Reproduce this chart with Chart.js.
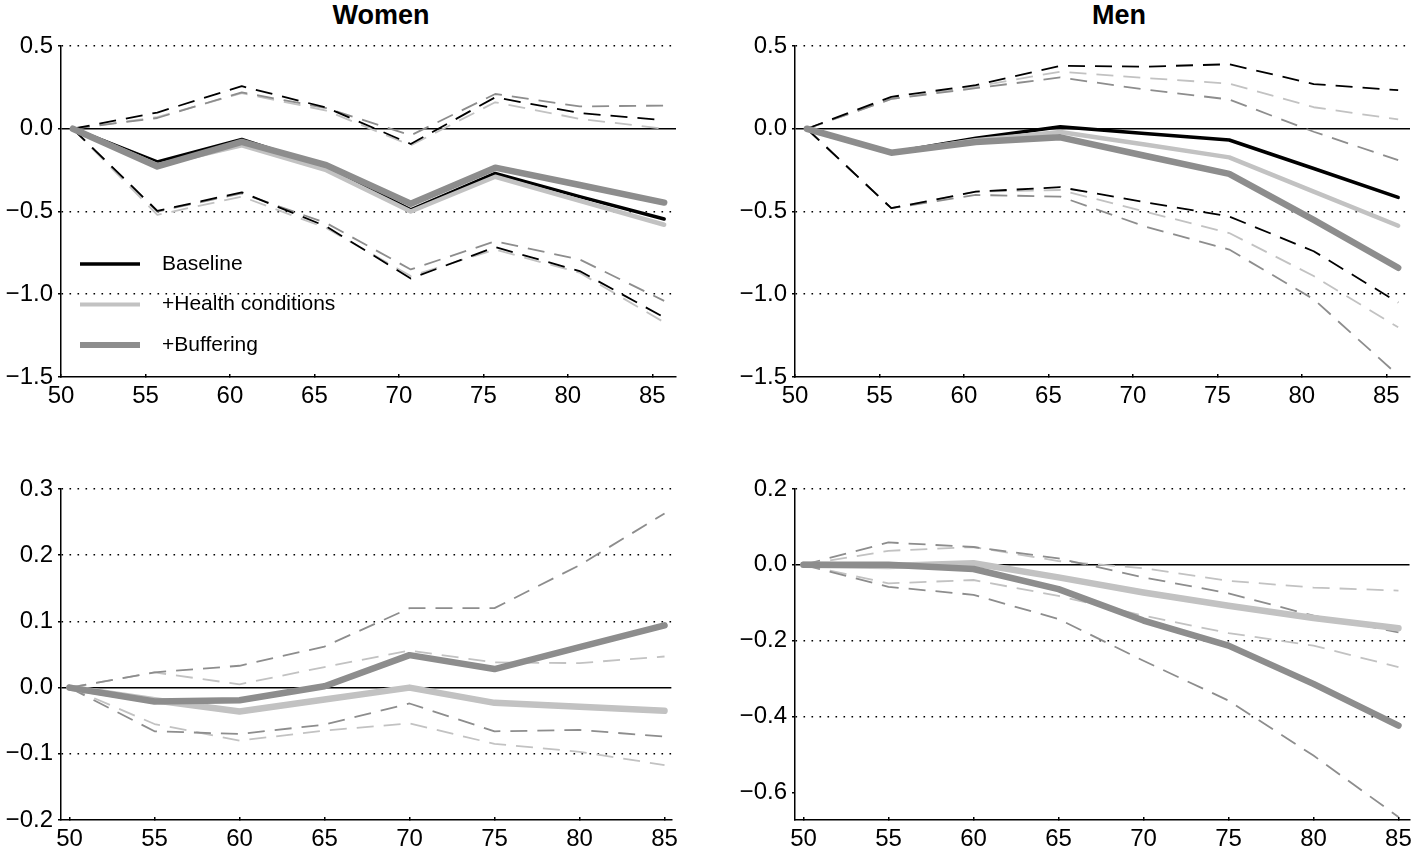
<!DOCTYPE html>
<html>
<head>
<meta charset="utf-8">
<title>Women / Men</title>
<script src="https://cdn.jsdelivr.net/npm/chart.js@4.4.1/dist/chart.umd.min.js"></script>
<style>
  html, body { margin: 0; padding: 0; background: #fff; overflow: hidden; }
  body { width: 1419px; height: 853px; position: relative; font-family: "Liberation Sans", Arial, sans-serif; }
  .panel { position: absolute; width: 683px; height: 385px; }
  .title { position: absolute; top: 0px; width: 300px; text-align: center; font-weight: bold; font-size: 27px; color: #000; }
</style>
</head>
<body>
<div class="title" style="left:231px">Women</div>
<div class="title" style="left:969px">Men</div>
<div class="panel" style="left:3px; top:26px"><canvas id="womenTop"></canvas></div>
<div class="panel" style="left:737px; top:26px"><canvas id="menTop"></canvas></div>
<div class="panel" style="left:3px; top:469px"><canvas id="womenBottom"></canvas></div>
<div class="panel" style="left:737px; top:469px"><canvas id="menBottom"></canvas></div>
<script>
// ages (top panels use mean age in each bin, bottom panels whole ages)
const topAges = [50.7, 55.7, 60.7, 65.7, 70.7, 75.7, 80.7, 85.7];
const bottomAges = [50, 55, 60, 65, 70, 75, 80, 85];
const xTicks = [50, 55, 60, 65, 70, 75, 80, 85];

const legendLabels = ["Baseline", "+Health conditions", "+Buffering"];

// top-left: women
const womenTopBaseline = [0, -0.20, -0.065, -0.23, -0.49, -0.27, -0.41, -0.545];
const womenTopBaselineHi = [0, 0.098, 0.257, 0.128, -0.092, 0.19, 0.095, 0.052];
const womenTopBaselineLo = [0, -0.496, -0.384, -0.59, -0.905, -0.715, -0.86, -1.14];
const womenTopHealth = [0, -0.22, -0.10, -0.25, -0.50, -0.29, -0.435, -0.58];
const womenTopHealthHi = [0, 0.07, 0.215, 0.11, -0.10, 0.16, 0.06, 0.0];
const womenTopHealthLo = [0, -0.52, -0.41, -0.60, -0.89, -0.73, -0.87, -1.17];
const womenTopBuffer = [0, -0.228, -0.08, -0.22, -0.453, -0.235, -0.34, -0.446];
const womenTopBufferHi = [0, 0.065, 0.22, 0.125, -0.04, 0.21, 0.135, 0.14];
const womenTopBufferLo = [0, -0.50, -0.39, -0.57, -0.85, -0.68, -0.79, -1.04];

// top-right: men
const menTopBaseline = [0, -0.145, -0.058, 0.012, -0.028, -0.068, -0.24, -0.415];
const menTopBaselineHi = [0, 0.193, 0.263, 0.38, 0.375, 0.39, 0.27, 0.233];
const menTopBaselineLo = [0, -0.48, -0.38, -0.353, -0.444, -0.53, -0.74, -1.05];
const menTopHealth = [0, -0.145, -0.07, -0.02, -0.095, -0.173, -0.38, -0.586];
const menTopHealthHi = [0, 0.18, 0.255, 0.345, 0.307, 0.273, 0.13, 0.056];
const menTopHealthLo = [0, -0.48, -0.38, -0.37, -0.50, -0.63, -0.89, -1.2];
const menTopBuffer = [0, -0.145, -0.08, -0.052, -0.163, -0.273, -0.55, -0.84];
const menTopBufferHi = [0, 0.18, 0.245, 0.31, 0.237, 0.177, -0.018, -0.19];
const menTopBufferLo = [0, -0.48, -0.40, -0.41, -0.59, -0.73, -1.03, -1.49];

// bottom-left: women
const womenBottomHealth = [0, -0.019, -0.036, -0.018, 0.0, -0.023, -0.029, -0.035];
const womenBottomHealthHi = [0, 0.023, 0.005, 0.031, 0.056, 0.038, 0.037, 0.047];
const womenBottomHealthLo = [0, -0.055, -0.08, -0.065, -0.054, -0.085, -0.097, -0.117];
const womenBottomBuffer = [0, -0.021, -0.019, 0.002, 0.049, 0.028, 0.061, 0.094];
const womenBottomBufferHi = [0, 0.023, 0.033, 0.062, 0.12, 0.12, 0.185, 0.263];
const womenBottomBufferLo = [0, -0.066, -0.07, -0.056, -0.024, -0.066, -0.064, -0.074];

// bottom-right: men
const menBottomHealth = [0, -0.003, 0.004, -0.033, -0.073, -0.108, -0.14, -0.167];
const menBottomHealthHi = [0, 0.037, 0.047, 0.01, -0.009, -0.042, -0.06, -0.068];
const menBottomHealthLo = [0, -0.049, -0.04, -0.082, -0.134, -0.18, -0.213, -0.27];
const menBottomBuffer = [0, 0, -0.011, -0.064, -0.147, -0.213, -0.314, -0.424];
const menBottomBufferHi = [0, 0.059, 0.047, 0.017, -0.033, -0.075, -0.134, -0.178];
const menBottomBufferLo = [0, -0.058, -0.079, -0.143, -0.253, -0.358, -0.503, -0.665];

// y ticks and dotted reference lines
const topYTicks = [0.5, 0.0, -0.5, -1.0, -1.5];
const topDotted = [0.5, -0.5, -1.0];
const womenBottomYTicks = [0.3, 0.2, 0.1, 0.0, -0.1, -0.2];
const womenBottomDotted = [0.3, 0.2, 0.1, -0.1];
const menBottomYTicks = [0.2, 0.0, -0.2, -0.4, -0.6];
const menBottomDotted = [0.2, -0.2, -0.4];

const BLACK = "#000000";
const LIGHT = "#c2c2c2";
const DARK = "#8d8d8d";
const tickFont = { family: "'Liberation Sans', Arial, sans-serif", size: 24 };

function fmt(v) {
    const s = Math.abs(v).toFixed(1);
    return v < 0 ? "\u2212" + s : s;
}

function series(ages, vals, color, width, dashed, order) {
    return {
        data: ages.map((a, i) => ({ x: a, y: vals[i] })),
        borderColor: color,
        borderWidth: width,
        borderDash: dashed ? [17, 10] : [],
        borderCapStyle: dashed ? "butt" : "round",
        borderJoinStyle: "round",
        pointRadius: 0,
        fill: false,
        tension: 0,
        order: order
    };
}

const legendPlugin = {
    id: "insideLegend",
    afterDraw(chart) {
        const { ctx, chartArea } = chart;
        const colors = [BLACK, LIGHT, DARK];
        const widths = [3.5, 4, 6];
        ctx.save();
        legendLabels.forEach((label, i) => {
            const y = chartArea.top + 218 + i * 40.5;
            ctx.strokeStyle = colors[i];
            ctx.lineWidth = widths[i];
            ctx.setLineDash([]);
            ctx.beginPath();
            ctx.moveTo(chartArea.left + 19, y);
            ctx.lineTo(chartArea.left + 79, y);
            ctx.stroke();
            ctx.fillStyle = BLACK;
            ctx.font = "21px 'Liberation Sans', Arial, sans-serif";
            ctx.textBaseline = "middle";
            ctx.fillText(label, chartArea.left + 101, y);
        });
        ctx.restore();
    }
};

function makePanel(id, datasets, xMin, xMax, yMin, yMax, yTicks, dotted, plugins) {
    const el = document.getElementById(id);
    return new Chart(el.getContext("2d"), {
        type: "line",
        data: { datasets: datasets },
        options: {
            responsive: true,
            maintainAspectRatio: false,
            animation: false,
            layout: { padding: { top: 20, right: 10, left: 0, bottom: 0 } },
            plugins: { legend: { display: false }, tooltip: { enabled: false } },
            scales: {
                x: {
                    type: "linear",
                    min: xMin,
                    max: xMax,
                    afterBuildTicks: s => { s.ticks = xTicks.map(v => ({ value: v })); },
                    afterFit: s => { s.height = 34; },
                    // negative tick length -> ticks point into the plot
                    grid: { drawOnChartArea: false, tickLength: -3, color: BLACK, lineWidth: 1.5 },
                    border: { color: BLACK, width: 1.5 },
                    ticks: { color: BLACK, font: tickFont, padding: 8, maxRotation: 0, autoSkip: false,
                        callback: v => String(v) }
                },
                y: {
                    type: "linear",
                    min: yMin,
                    max: yMax,
                    afterBuildTicks: s => { s.ticks = yTicks.map(v => ({ value: v })); },
                    afterFit: s => { s.width = 58; },
                    grid: {
                        color: c => (c.tick && (c.tick.value === 0 || dotted.includes(c.tick.value))) ? BLACK : "rgba(0,0,0,0)",
                        lineWidth: c => (c.tick && c.tick.value === 0) ? 1.5 : 1.6,
                        tickLength: 3,
                        tickColor: BLACK,
                        tickWidth: 1.5
                    },
                    border: {
                        color: BLACK,
                        width: 1.5,
                        dash: c => (c.tick && c.tick.value === 0) ? [] : [1.6, 6.4]
                    },
                    ticks: { color: BLACK, font: tickFont, padding: 5, autoSkip: false, callback: v => fmt(v) }
                }
            }
        },
        plugins: plugins || []
    });
}

document.addEventListener("DOMContentLoaded", () => {
    makePanel("womenTop", [
        series(topAges, womenTopBuffer, DARK, 6.5, false, 1),
        series(topAges, womenTopHealth, LIGHT, 4.5, false, 2),
        series(topAges, womenTopBaseline, BLACK, 3.5, false, 3),
        series(topAges, womenTopBufferHi, DARK, 1.8, true, 4),
        series(topAges, womenTopBufferLo, DARK, 1.8, true, 4),
        series(topAges, womenTopHealthHi, LIGHT, 1.8, true, 5),
        series(topAges, womenTopHealthLo, LIGHT, 1.8, true, 5),
        series(topAges, womenTopBaselineHi, BLACK, 1.8, true, 3.5),
        series(topAges, womenTopBaselineLo, BLACK, 1.8, true, 3.5)
    ], 50, 86.4, -1.5, 0.5, topYTicks, topDotted, [legendPlugin]);

    makePanel("menTop", [
        series(topAges, menTopBuffer, DARK, 6.5, false, 1),
        series(topAges, menTopHealth, LIGHT, 4.5, false, 2),
        series(topAges, menTopBaseline, BLACK, 3.5, false, 3),
        series(topAges, menTopBufferHi, DARK, 1.8, true, 4),
        series(topAges, menTopBufferLo, DARK, 1.8, true, 4),
        series(topAges, menTopHealthHi, LIGHT, 1.8, true, 5),
        series(topAges, menTopHealthLo, LIGHT, 1.8, true, 5),
        series(topAges, menTopBaselineHi, BLACK, 1.8, true, 3.5),
        series(topAges, menTopBaselineLo, BLACK, 1.8, true, 3.5)
    ], 50, 86.4, -1.5, 0.5, topYTicks, topDotted);

    makePanel("womenBottom", [
        series(bottomAges, womenBottomBuffer, DARK, 6.5, false, 1),
        series(bottomAges, womenBottomHealth, LIGHT, 6.5, false, 2),
        series(bottomAges, womenBottomBufferHi, DARK, 1.8, true, 4),
        series(bottomAges, womenBottomBufferLo, DARK, 1.8, true, 4),
        series(bottomAges, womenBottomHealthHi, LIGHT, 1.8, true, 5),
        series(bottomAges, womenBottomHealthLo, LIGHT, 1.8, true, 5)
    ], 49.5, 85.4, -0.2, 0.3, womenBottomYTicks, womenBottomDotted);

    makePanel("menBottom", [
        series(bottomAges, menBottomBuffer, DARK, 6.5, false, 1),
        series(bottomAges, menBottomHealth, LIGHT, 6.5, false, 2),
        series(bottomAges, menBottomBufferHi, DARK, 1.8, true, 4),
        series(bottomAges, menBottomBufferLo, DARK, 1.8, true, 4),
        series(bottomAges, menBottomHealthHi, LIGHT, 1.8, true, 5),
        series(bottomAges, menBottomHealthLo, LIGHT, 1.8, true, 5)
    ], 49.5, 85.65, -0.673, 0.2, menBottomYTicks, menBottomDotted);
});
</script>
</body>
</html>
